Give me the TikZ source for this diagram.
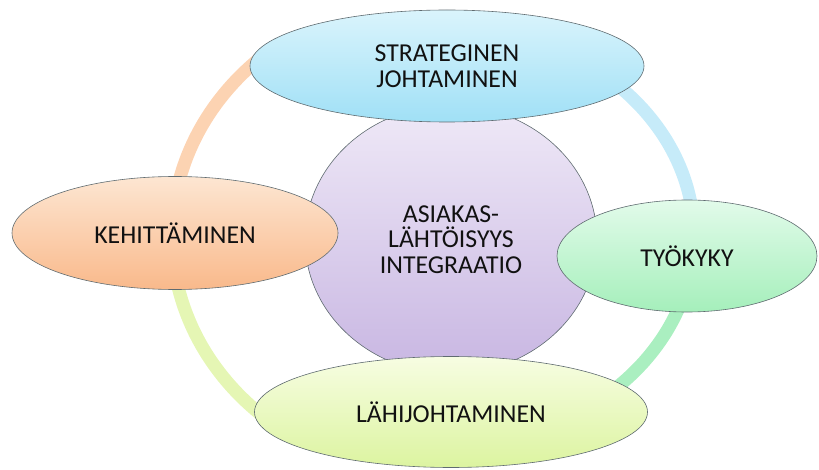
\documentclass[tikz,border=0pt]{standalone}
\usepackage{fontspec}
\setmainfont{Carlito}
\usetikzlibrary{shapes.geometric,calc}
\pgfdeclarelayer{background}
\pgfsetlayers{background,main}
\definecolor{edgegray}{HTML}{5F6B70}
\definecolor{txt}{HTML}{111111}
\definecolor{purT}{HTML}{EFE9F7}
\definecolor{purB}{HTML}{C8B6E2}
\definecolor{bluT}{HTML}{DAF4FC}
\definecolor{bluB}{HTML}{A0E0F6}
\definecolor{orT}{HTML}{FDE6D2}
\definecolor{orB}{HTML}{F9B98B}
\definecolor{grT}{HTML}{E2FBEA}
\definecolor{grB}{HTML}{A5EFBB}
\definecolor{ylT}{HTML}{F7FDE2}
\definecolor{ylB}{HTML}{DCF4A0}
\definecolor{ringOr}{HTML}{FCD3B2}
\definecolor{ringBl}{HTML}{C6EBF9}
\definecolor{ringGr}{HTML}{AAEFC0}
\definecolor{ringYl}{HTML}{E5F6B4}
\begin{document}
\begin{tikzpicture}[x=1pt,y=-1pt,
  bubble/.style={ellipse, draw=edgegray, line width=0.6pt, inner sep=0pt,
    align=center, font=\fontsize{25.8}{25.5}\selectfont, text=txt},
  ringseg/.style={line width=13pt, line cap=butt}]
\useasboundingbox (0,0) rectangle (819,470);
% centre
\node[bubble, minimum width=292pt, minimum height=268pt,
  top color=purT, bottom color=purB] (core) at (451,239.5)
  {ASIAKAS-\\LÄHTÖISYYS\\INTEGRAATIO};
% outer ellipses
\node[bubble, minimum width=394pt, minimum height=112pt,
  top color=bluT, bottom color=bluB] (strat) at (447,66)
  {STRATEGINEN\\JOHTAMINEN};
\node[bubble, minimum width=326pt, minimum height=113pt,
  top color=orT, bottom color=orB] (kehit) at (175,233)
  {KEHITTÄMINEN};
\node[bubble, minimum width=260pt, minimum height=112pt,
  top color=grT, bottom color=grB] (tyok) at (687,256)
  {TYÖKYKY};
\node[bubble, minimum width=393pt, minimum height=111pt,
  top color=ylT, bottom color=ylB] (lahi) at (451,412)
  {LÄHIJOHTAMINEN};
% ring behind the ellipses
\begin{pgfonlayer}{background}
\draw[ringseg, draw=ringOr] plot[domain=180:229, samples=50, variable=\t]
  ({440+268*cos(\t)}, {236+240*sin(\t)});
\draw[ringseg, draw=ringYl] plot[domain=180:127, samples=50, variable=\t]
  ({440+268*cos(\t)}, {236+240*sin(\t)});
\draw[ringseg, draw=ringBl] plot[domain=0:-55, samples=50, variable=\t]
  ({440+254*cos(\t)}, {236+211*sin(\t)});
\draw[ringseg, draw=ringGr] plot[domain=0:55, samples=50, variable=\t]
  ({440+254*cos(\t)}, {236+211*sin(\t)});
\end{pgfonlayer}
\end{tikzpicture}
\end{document}
